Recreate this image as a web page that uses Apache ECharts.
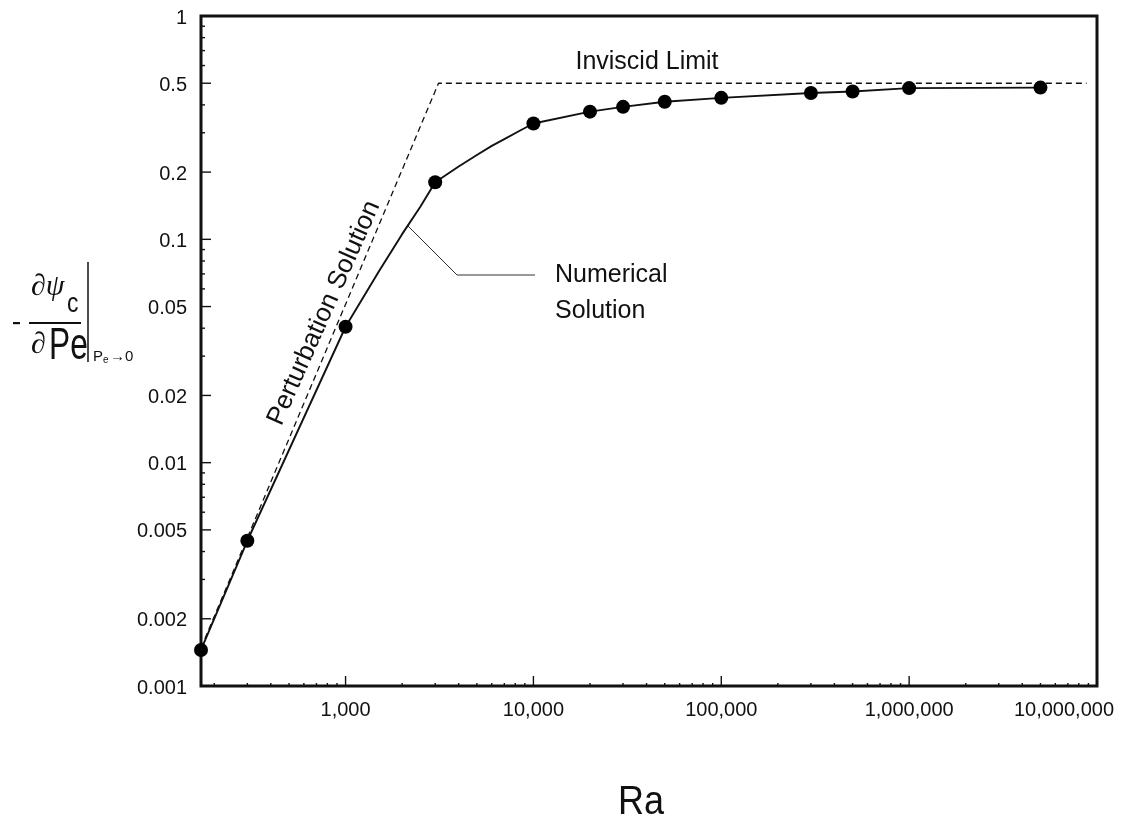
<!DOCTYPE html>
<html>
<head>
<meta charset="utf-8">
<script src="https://cdn.jsdelivr.net/npm/echarts@6/dist/echarts.min.js"></script>
<style>
html,body{margin:0;padding:0;background:#ffffff;}
#chart{width:1126px;height:826px;}
</style>
</head>
<body>
<div id="chart"></div>
<script>
// ---------------- data ----------------
// Numerical solution: plotted points
const raPoints  = [170, 300, 1000, 3000, 10000, 20000, 30000, 50000, 100000, 300000, 500000, 1000000, 5000000];
const psiPoints = [0.00145, 0.00447, 0.0406, 0.18, 0.33, 0.373, 0.392, 0.413, 0.43, 0.452, 0.459, 0.4755, 0.478];

// Numerical solution: solid curve (points + positions)
const raCurve  = [170, 300, 1000, 1500, 2000, 2500, 3000, 4000, 5000, 6000, 7000, 8500, 10000,
                  20000, 30000, 50000, 100000, 300000, 500000, 1000000, 5000000];
const psiCurve = [0.00145, 0.00447, 0.0406, 0.0716, 0.1055, 0.14, 0.18, 0.212, 0.2385, 0.262, 0.281, 0.307, 0.33,
                  0.373, 0.392, 0.413, 0.43, 0.452, 0.459, 0.4755, 0.478];

// Perturbation solution + inviscid limit (dashed)
const raDashed  = [170, 3125, 8800000];
const psiDashed = [0.00148, 0.5, 0.5];

// Axis ticks / labels
const xMajorTicks  = [1000, 10000, 100000, 1000000, 10000000];
const xTickLabels  = ['1,000', '10,000', '100,000', '1,000,000', '10,000,000'];
const xMinorTicks  = [200, 300, 400, 500, 600, 700, 800, 900,
                      2000, 3000, 4000, 5000, 6000, 7000, 8000, 9000,
                      20000, 30000, 40000, 50000, 60000, 70000, 80000, 90000,
                      200000, 300000, 400000, 500000, 600000, 700000, 800000, 900000,
                      2000000, 3000000, 4000000, 5000000, 6000000, 7000000, 8000000, 9000000];
const yMajorTicks  = [0.001, 0.002, 0.005, 0.01, 0.02, 0.05, 0.1, 0.2, 0.5, 1];
const yTickLabels  = ['0.001', '0.002', '0.005', '0.01', '0.02', '0.05', '0.1', '0.2', '0.5', '1'];
const yMinorTicks  = [0.003, 0.004, 0.006, 0.007, 0.008, 0.009,
                      0.03, 0.04, 0.06, 0.07, 0.08, 0.09,
                      0.3, 0.4, 0.6, 0.7, 0.8, 0.9];

const X_MIN = 170, X_MAX = 10000000, Y_MIN = 0.001, Y_MAX = 1;

// ---------------- chart ----------------
const INK = '#111111';
const SANS = '"Liberation Sans", Arial, Helvetica, sans-serif';
const SERIF = '"Liberation Serif", "DejaVu Serif", serif';

const zipPairs = (a, b) => a.map((v, i) => [v, b[i]]);

function txtStyle(text, font, align, valign) {
  return {text: text, font: font, fill: INK,
          align: align, verticalAlign: valign,
          textAlign: align, textVerticalAlign: valign, x: 0, y: 0};
}

const chart = echarts.init(document.getElementById('chart'), null, {renderer: 'canvas'});

const xTickData = xMajorTicks.map(v => [v, Y_MIN, 1]).concat(xMinorTicks.map(v => [v, Y_MIN, 0]));
const yTickData = yMajorTicks.map(v => [X_MIN, v, 1]).concat(yMinorTicks.map(v => [X_MIN, v, 0]));

const option = {
  backgroundColor: '#ffffff',
  animation: false,
  grid: {left: 201, right: 29, top: 16, bottom: 140, show: true,
         borderColor: INK, borderWidth: 3, backgroundColor: 'transparent'},
  xAxis: {type: 'log', logBase: 10, min: X_MIN, max: X_MAX,
          axisLine: {show: false}, axisTick: {show: false}, axisLabel: {show: false},
          splitLine: {show: false}, minorTick: {show: false}, minorSplitLine: {show: false}},
  yAxis: {type: 'log', logBase: 10, min: Y_MIN, max: Y_MAX,
          axisLine: {show: false}, axisTick: {show: false}, axisLabel: {show: false},
          splitLine: {show: false}, minorTick: {show: false}, minorSplitLine: {show: false}},
  series: [
    {
      name: 'Perturbation / Inviscid', type: 'line', silent: true,
      data: zipPairs(raDashed, psiDashed), symbol: 'none',
      lineStyle: {color: INK, width: 1.3, type: [6, 4]}, z: 2
    },
    {
      name: 'Numerical curve', type: 'line', silent: true,
      data: zipPairs(raCurve, psiCurve), symbol: 'none', smooth: false,
      lineStyle: {color: INK, width: 1.9, join: 'round'}, z: 3
    },
    {
      name: 'Numerical points', type: 'scatter', silent: true,
      data: zipPairs(raPoints, psiPoints), symbol: 'circle', symbolSize: 14,
      itemStyle: {color: '#000000', opacity: 1}, z: 4
    },
    {
      name: 'xTicks', type: 'custom', silent: true, data: xTickData, z: 5,
      renderItem: function (params, api) {
        const p = api.coord([api.value(0), api.value(1)]);
        const len = api.value(2) ? 10 : 3;
        return {type: 'line', shape: {x1: p[0], y1: p[1] - 1, x2: p[0], y2: p[1] - len},
                style: {stroke: INK, lineWidth: 1.4}};
      }
    },
    {
      name: 'yTicks', type: 'custom', silent: true, data: yTickData, z: 5,
      renderItem: function (params, api) {
        const p = api.coord([api.value(0), api.value(1)]);
        const len = api.value(2) ? 10 : 4;
        return {type: 'line', shape: {x1: p[0] + 1, y1: p[1], x2: p[0] + len, y2: p[1]},
                style: {stroke: INK, lineWidth: 1.4}};
      }
    },
    {
      name: 'xLabels', type: 'custom', silent: true,
      data: xMajorTicks.map(v => [v, Y_MIN]), z: 5,
      renderItem: function (params, api) {
        const v = api.value(0);
        const p = api.coord([v, api.value(1)]);
        const last = v === X_MAX;
        return {type: 'text', x: last ? p[0] + 17 : p[0], y: p[1] + 24,
                style: txtStyle(xTickLabels[params.dataIndex], '20px ' + SANS, last ? 'right' : 'center', 'middle')};
      }
    },
    {
      name: 'yLabels', type: 'custom', silent: true,
      data: yMajorTicks.map(v => [X_MIN, v]), z: 5,
      renderItem: function (params, api) {
        const p = api.coord([api.value(0), api.value(1)]);
        return {type: 'text', x: p[0] - 14, y: p[1] + 2,
                style: txtStyle(yTickLabels[params.dataIndex], '20px ' + SANS, 'right', 'middle')};
      }
    }
  ],
  graphic: [
    // x-axis title
    {type: 'text', x: 641, y: 803, scaleX: 0.9, style: txtStyle('Ra', '40px ' + SANS, 'center', 'middle')},
    // annotations
    {type: 'text', x: 647, y: 62, style: txtStyle('Inviscid Limit', '25px ' + SANS, 'center', 'middle')},
    {type: 'text', x: 555, y: 275, style: txtStyle('Numerical', '25px ' + SANS, 'left', 'middle')},
    {type: 'text', x: 555, y: 311, style: txtStyle('Solution', '25px ' + SANS, 'left', 'middle')},
    {type: 'polyline', shape: {points: [[407, 225], [457, 275], [535, 275]]},
     style: {stroke: '#333', lineWidth: 1, fill: null}},
    {type: 'text', x: 324, y: 313, rotation: 66 * Math.PI / 180,
     style: txtStyle('Perturbation Solution', '26px ' + SANS, 'center', 'middle')},
    // y-axis title: - dψc/dPe | Pe->0
    {type: 'rect', shape: {x: 13, y: 322, width: 7, height: 2.2}, style: {fill: INK}},
    {type: 'text', x: 31, y: 287, style: txtStyle('∂ψ', 'italic 30px ' + SERIF, 'left', 'middle')},
    {type: 'text', x: 67, y: 305, scaleX: 0.85, style: txtStyle('c', '27px ' + SANS, 'left', 'middle')},
    {type: 'rect', shape: {x: 29, y: 322, width: 52, height: 2}, style: {fill: INK}},
    {type: 'text', x: 31, y: 345, style: txtStyle('∂', 'italic 30px ' + SERIF, 'left', 'middle')},
    {type: 'text', x: 49, y: 347, scaleX: 0.72, style: txtStyle('Pe', '44px ' + SANS, 'left', 'middle')},
    {type: 'line', shape: {x1: 88, y1: 262, x2: 88, y2: 362}, style: {stroke: INK, lineWidth: 1.5}},
    {type: 'text', x: 93, y: 357, style: txtStyle('P', '15px ' + SANS, 'left', 'middle')},
    {type: 'text', x: 103, y: 360, style: txtStyle('e', '10px ' + SANS, 'left', 'middle')},
    {type: 'text', x: 110, y: 357, style: txtStyle('→0', '15px ' + SANS, 'left', 'middle')}
  ]
};

chart.setOption(option);
</script>
</body>
</html>
